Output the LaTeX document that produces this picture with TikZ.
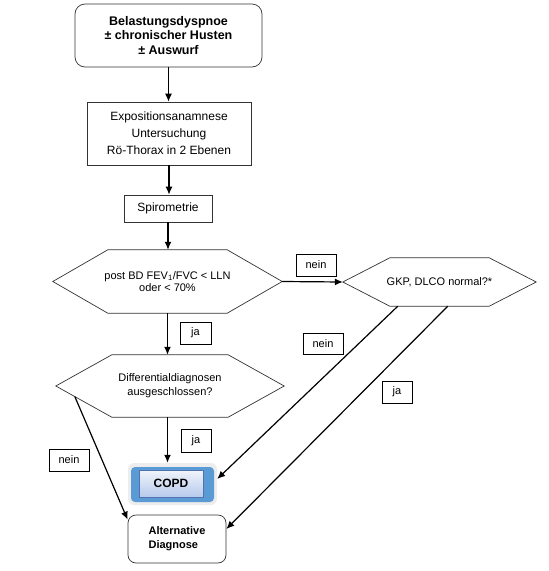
\documentclass[tikz,border=0pt]{standalone}
\usepackage{fontspec}
\setmainfont{Liberation Sans}
\usetikzlibrary{calc,arrows.meta,positioning}

\definecolor{copdblue}{RGB}{91,155,213}
\definecolor{copdtop}{RGB}{240,244,251}
\definecolor{copdbottom}{RGB}{182,202,236}
\definecolor{copdedge}{RGB}{80,115,175}

\tikzset{
  box/.style={draw=black!80, line width=0.7pt, align=center, inner sep=0pt, font=\fontsize{11}{13}\selectfont},
  hexa/.style={align=center, inner sep=0pt, font=\fontsize{11}{12.5}\selectfont},
  tag/.style={draw, fill=white, line width=0.6pt, inner sep=0pt, minimum height=22pt, font=\fontsize{11}{13}\selectfont},
  arr/.style={-{Latex[length=8pt,width=7pt]}, line width=1.2pt},
}
\newcommand{\hexframe}[2]{\draw[black!80, line width=0.7pt] (#1.west) -- ([xshift=#2]#1.north west) -- ([xshift=-#2]#1.north east) -- (#1.east) -- ([xshift=-#2]#1.south east) -- ([xshift=#2]#1.south west) -- cycle;}

\begin{document}
\begin{tikzpicture}[x=1pt,y=-1pt]
  \useasboundingbox (0,0) rectangle (549,571);

  % main column
  \node[box, rounded corners=10pt, minimum width=187pt, minimum height=63pt, font=\bfseries\fontsize{12.5}{14.5}\selectfont] (sym) at (168.5,35.5) {Belastungsdyspnoe\\± chronischer Husten\\± Auswurf};
  \node[box, minimum width=164pt, minimum height=63pt, font=\fontsize{12}{17}\selectfont] (expo) at (169,133.5) {Expositionsanamnese\\Untersuchung\\Rö-Thorax in 2 Ebenen};
  \node[box, minimum width=88pt, minimum height=27pt, font=\fontsize{12}{14}\selectfont] (spiro) at (168,208.5) {Spirometrie};

  \node[hexa, minimum width=229pt, minimum height=63pt] (fev) at (167.5,281.5) {post BD FEV\textsubscript{1}/FVC < LLN\\oder < 70\%};
  \hexframe{fev}{55pt}
  \node[hexa, minimum width=193pt, minimum height=48pt] (gkp) at (439.5,282) {GKP, DLCO normal?*};
  \hexframe{gkp}{47pt}
  \node[hexa, minimum width=228pt, minimum height=62pt, font=\fontsize{11}{14}\selectfont] (diff) at (170,386) {Differentialdiagnosen\\ausgeschlossen?};
  \hexframe{diff}{56pt}

  % COPD
  \node[fill=black!7, rounded corners=6pt, minimum width=89pt, minimum height=42pt] (copd) at (172.5,484) {};
  \node[fill=copdblue, rounded corners=4pt, minimum width=83pt, minimum height=35pt] (copdframe) at (172.5,484.5) {};
  \node[draw=copdedge, line width=0.6pt, top color=copdtop, bottom color=copdbottom, minimum width=64pt, minimum height=27pt, font=\bfseries\fontsize{12}{14}\selectfont] (copdtxt) at (171,483.5) {COPD};

  \node[box, rounded corners=8pt, minimum width=98pt, minimum height=48pt, align=left, font=\bfseries\fontsize{11}{14}\selectfont] (alt) at (177,539) {Alternative\\Diagnose};

  % answers
  \node[tag, minimum width=40pt] (nein1) at (316,265) {nein};
  \node[tag, minimum width=31pt] (ja1) at (195.5,333) {ja};
  \node[tag, minimum width=40pt, minimum height=21pt] (nein2) at (323,343.5) {nein};
  \node[tag, minimum width=30pt] (ja2) at (397,392) {ja};
  \node[tag, minimum width=40pt] (nein3) at (69,460) {nein};
  \node[tag, minimum width=30pt, minimum height=23pt] (ja3) at (196,440.5) {ja};

  % arrows
  \draw[arr] (sym.south) -- (sym.south |- expo.north);
  \draw[arr] (expo.south) -- (expo.south |- spiro.north);
  \draw[arr] (spiro.south) -- (spiro.south |- fev.north);
  \draw[arr] (fev.east) -- (gkp.west);
  \draw[arr] (fev.south) -- (fev.south |- diff.north);
  \draw[arr] (fev.south |- diff.south) -- (fev.south |- copd.north);
  \draw[arr] ([xshift=55pt]gkp.south west) -- ([yshift=5pt]copd.east);
  \draw[arr] ([xshift=105pt]gkp.south west) -- ([yshift=10pt]alt.east);
  \draw[arr] ($(diff.west)!0.34!([xshift=56pt]diff.south west)$) -- ([yshift=-5pt]alt.north west);
\end{tikzpicture}
\end{document}
